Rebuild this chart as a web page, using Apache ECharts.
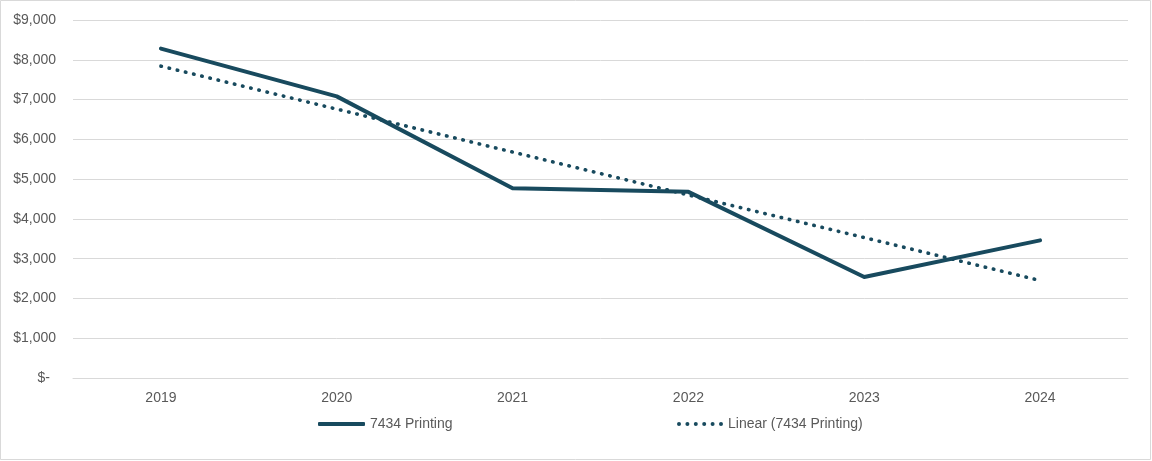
<!DOCTYPE html>
<html>
<head>
<meta charset="utf-8">
<title>7434 Printing</title>
<script src="https://cdn.jsdelivr.net/npm/echarts@6/dist/echarts.min.js"></script>
<style>
  html, body { margin: 0; padding: 0; background: #ffffff; }
  #chart { width: 1152px; height: 461px; }
</style>
</head>
<body>
<div id="chart"></div>
<script>
// Yearly spend for account 7434 (Printing)
const years = ['2019', '2020', '2021', '2022', '2023', '2024'];
const printing = [8280, 7080, 4770, 4680, 2540, 3460];
// Linear trend line values
const printingTrend = [7840, 6760, 5680, 4600, 3530, 2450];
// Value axis ticks
const yTicks = [0, 1000, 2000, 3000, 4000, 5000, 6000, 7000, 8000, 9000];

const lineColor = '#184a5e';
const textColor = '#595959';
const gridColor = '#d9d9d9';
const labelFont = 'Liberation Sans, Arial, sans-serif';
const dotDash = [0.5, 7.9];

// Legend swatch for the dotted trend line: a row of round dots
function dotRowPath(count, r, step) {
  let d = '';
  for (let i = 0; i < count; i++) {
    const cx = r + i * step;
    d += 'M' + (cx - r) + ',' + r +
         'a' + r + ',' + r + ' 0 1,0 ' + (2 * r) + ',0' +
         'a' + r + ',' + r + ' 0 1,0 ' + (-2 * r) + ',0';
  }
  return 'path://' + d;
}

function money(v) {
  if (v === 0) return '{zero|$-}';
  return '$' + v.toLocaleString('en-US');
}

const chart = echarts.init(document.getElementById('chart'), null, { renderer: 'canvas' });

chart.setOption({
  animation: false,
  backgroundColor: '#ffffff',
  graphic: [{
    type: 'rect',
    shape: { x: 0.5, y: 0.5, width: 1150, height: 459 },
    style: { fill: 'none', stroke: gridColor, lineWidth: 1 },
    silent: true
  }],
  grid: { left: 73, right: 24, top: 20, bottom: 83, containLabel: false },
  xAxis: {
    type: 'category',
    data: years,
    boundaryGap: true,
    axisLine: { show: true, lineStyle: { color: gridColor, width: 1 } },
    axisTick: { show: false },
    axisLabel: { color: textColor, fontSize: 14, fontFamily: labelFont, margin: 13 },
    splitLine: { show: false }
  },
  yAxis: {
    type: 'value',
    min: yTicks[0],
    max: yTicks[yTicks.length - 1],
    interval: yTicks[1] - yTicks[0],
    axisLine: { show: false },
    axisTick: { show: false },
    axisLabel: {
      color: textColor, fontSize: 14, fontFamily: labelFont, margin: 17, formatter: money,
      rich: { zero: { color: textColor, fontSize: 14, fontFamily: labelFont, padding: [0, 6, 0, 0] } }
    },
    splitLine: { show: true, lineStyle: { color: gridColor, width: 1 } }
  },
  legend: [{
    data: [{ name: '7434 Printing', icon: 'roundRect' }],
    left: 318,
    top: 417,
    itemWidth: 47,
    itemHeight: 4,
    padding: 0,
    itemStyle: { color: lineColor, borderWidth: 0 },
    textStyle: { color: textColor, fontSize: 14, fontFamily: labelFont }
  }, {
    data: [{ name: 'Linear (7434 Printing)', icon: dotRowPath(6, 2, 8.4) }],
    left: 677,
    top: 417,
    itemWidth: 46,
    itemHeight: 4,
    padding: 0,
    itemStyle: { color: lineColor, borderWidth: 0 },
    textStyle: { color: textColor, fontSize: 14, fontFamily: labelFont }
  }],
  series: [{
    name: '7434 Printing',
    type: 'line',
    data: printing,
    symbol: 'none',
    lineStyle: { color: lineColor, width: 4, cap: 'round', join: 'round' },
    itemStyle: { color: lineColor },
    z: 3
  }, {
    name: 'Linear (7434 Printing)',
    type: 'line',
    data: printingTrend,
    symbol: 'none',
    lineStyle: { color: lineColor, width: 3.6, type: dotDash, cap: 'round' },
    itemStyle: { color: lineColor },
    z: 2
  }]
});
</script>
</body>
</html>
